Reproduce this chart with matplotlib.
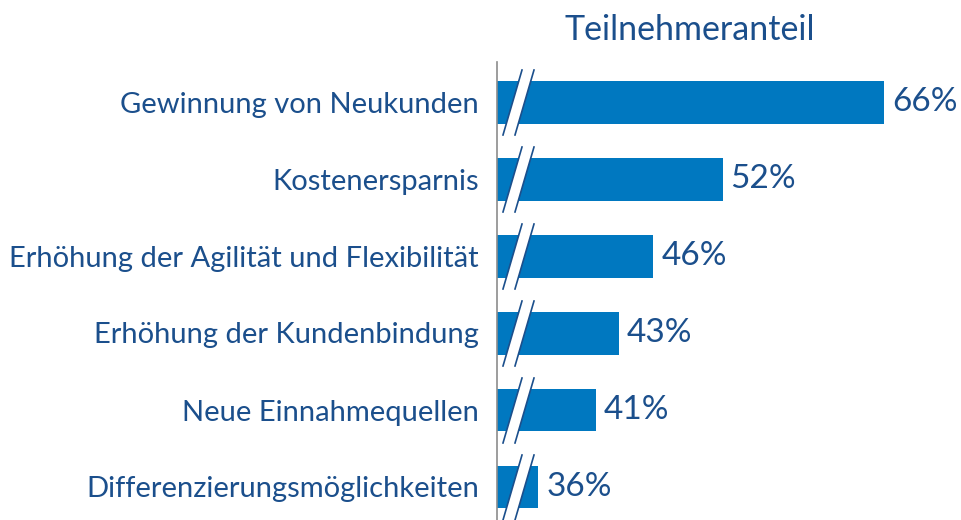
import matplotlib
matplotlib.use("Agg")
import matplotlib.pyplot as plt
from matplotlib.patches import Polygon

categories = ["Gewinnung von Neukunden", "Kostenersparnis",
              "Erhöhung der Agilität und Flexibilität", "Erhöhung der Kundenbindung",
              "Neue Einnahmequellen", "Differenzierungsmöglichkeiten"]
values = [66, 52, 46, 43, 41, 36]
value_labels = ["66%", "52%", "46%", "43%", "41%", "36%"]
title = "Teilnehmeranteil"

BAR = "#0078C0"
TXT = "#1B4F8C"
FONT = ["Lato", "DejaVu Sans"]

W, H = 961, 520
fig = plt.figure(figsize=(W / 100, H / 100), dpi=100)
ax_left, ax_top, ax_bottom = 497, 62, 520
ax = fig.add_axes([ax_left / W, 0, 1 - ax_left / W, (H - ax_top) / H])

px_per_unit = 11.53
x0 = 66 - (884 - ax_left) / px_per_unit
x1 = x0 + (W - ax_left) / px_per_unit
ax.set_xlim(x0, x1)
row = 77.0
ax.set_ylim(5 + (ax_bottom - 487) / row, -(102 - ax_top) / row)

ypos = list(range(len(categories)))
ax.barh(ypos, [v - x0 for v in values], left=x0, height=43 / row, color=BAR, zorder=2)

for spine in ["top", "right", "bottom"]:
    ax.spines[spine].set_visible(False)
ax.spines["left"].set_color("#8C8C8C")
ax.spines["left"].set_linewidth(1.2)
ax.set_xticks([])
ax.set_yticks(ypos)
ax.set_yticklabels(categories, fontsize=21, color=TXT, family=FONT)
ax.tick_params(axis="y", length=0, pad=13)

for y, v, lab in zip(ypos, values, value_labels):
    ax.text(v + 8 / px_per_unit, y, lab, va="center", ha="left",
            fontsize=24, color=TXT, family=FONT)

# break marks
def px_x(p):
    return x0 + (p - ax_left) / px_per_unit

for y in ypos:
    top = y - (102 - 70) / row
    bot = y + (135 - 102) / row
    lt, lb, rt, rb = px_x(522), px_x(503), px_x(534), px_x(515)
    poly = Polygon([(lt, top), (rt, top), (rb, bot), (lb, bot)], closed=True,
                   facecolor="white", edgecolor="none", zorder=3)
    ax.add_patch(poly)
    ax.plot([lt, lb], [top, bot], color=TXT, lw=1.2, zorder=4)
    ax.plot([rt, rb], [top, bot], color=TXT, lw=1.2, zorder=4)

fig.text(690 / W, 1 - 30 / H, title, ha="center", va="center",
         fontsize=24.5, color=TXT, family=FONT)

fig.savefig("out.png", dpi=100)
